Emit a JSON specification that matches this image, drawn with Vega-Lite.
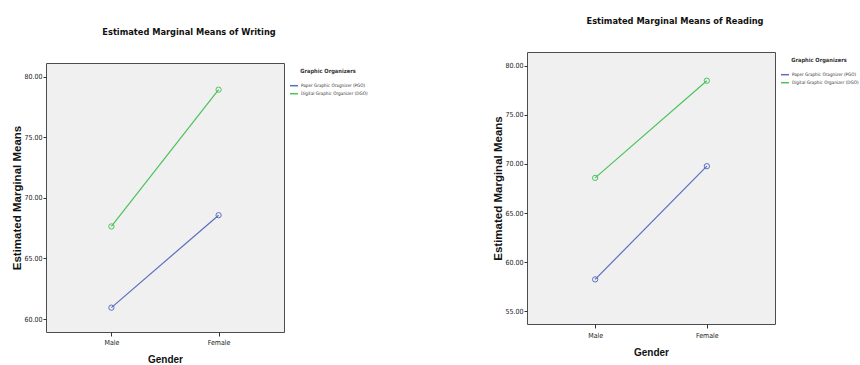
{
  "$schema": "https://vega.github.io/schema/vega-lite/v6.json",
  "background": "white",
  "padding": {"left": 11, "top": 15, "right": 0, "bottom": 0},
  "spacing": 118,
  "datasets": {
    "writing": [
      {"gender": "Male", "group": "Paper Graphic Oragnizer (PGO)", "mean": 60.94},
      {"gender": "Female", "group": "Paper Graphic Oragnizer (PGO)", "mean": 68.57},
      {"gender": "Male", "group": "Digital Graphic Organizer (DGO)", "mean": 67.64},
      {"gender": "Female", "group": "Digital Graphic Organizer (DGO)", "mean": 78.93}
    ],
    "reading": [
      {"gender": "Male", "group": "Paper Graphic Oragnizer (PGO)", "mean": 58.25},
      {"gender": "Female", "group": "Paper Graphic Oragnizer (PGO)", "mean": 69.77},
      {"gender": "Male", "group": "Digital Graphic Organizer (DGO)", "mean": 68.58},
      {"gender": "Female", "group": "Digital Graphic Organizer (DGO)", "mean": 78.47}
    ],
    "none": []
  },
  "config": {
    "view": {"fill": "#f0f0f0", "stroke": "#4d4d4d", "strokeWidth": 1},
    "axis": {
      "grid": false, "domain": false, "tickColor": "#333333", "tickSize": 3,
      "labelFont": "DejaVu Sans Condensed, DejaVu Sans, sans-serif", "labelFontSize": 7, "labelColor": "#222222",
      "titleFont": "Liberation Sans, Arial, sans-serif", "titleFontWeight": "bold", "titleColor": "#111111"
    },
    "axisX": {"titleFontSize": 10, "tickSize": 4},
    "axisY": {"titleFontSize": 11.5},
    "legend": {
      "symbolType": "stroke", "symbolSize": 64, "symbolStrokeWidth": 1.5,
      "labelFont": "DejaVu Sans Condensed, DejaVu Sans, sans-serif", "labelFontSize": 4.6, "labelColor": "#333333",
      "titleFont": "DejaVu Sans Condensed, DejaVu Sans, sans-serif", "titleFontSize": 5.7, "titleFontWeight": "bold", "titleColor": "#333333",
      "titleAnchor": "middle", "titlePadding": 7, "rowPadding": 0, "labelOffset": 2,
      "offset": 0, "padding": 5
    },
    "title": {
      "font": "DejaVu Sans Condensed, DejaVu Sans, sans-serif", "fontSize": 9.2, "fontWeight": "bold", "color": "#111111",
      "offset": 26, "dx": 24
    }
  },
  "resolve": {"scale": {"color": "independent"}, "legend": {"color": "independent"}},
  "hconcat": [
    {
      "spacing": 0,
      "resolve": {"scale": {"color": "independent"}, "legend": {"color": "independent"}},
      "vconcat": [
        {
          "width": 1, "height": 1,
          "view": {"stroke": null, "fill": null},
          "data": {"name": "none"},
          "mark": {"type": "point", "opacity": 0},
          "encoding": {}
        },
        {
          "width": 238, "height": 269,
          "title": {"text": [" ", "Estimated Marginal Means of Writing"], "lineHeight": 11},
          "data": {"name": "writing"},
          "encoding": {
            "x": {"field": "gender", "type": "nominal", "sort": ["Male", "Female"],
                  "scale": {"type": "point", "padding": 0.61},
                  "axis": {"title": "Gender", "labelAngle": 0, "labelPadding": 2, "titlePadding": 9}},
            "y": {"field": "mean", "type": "quantitative",
                  "scale": {"domain": [58.93, 81.13], "nice": false, "zero": false},
                  "axis": {"title": "Estimated Marginal Means", "values": [60, 65, 70, 75, 80], "format": ".2f", "labelPadding": 1, "titlePadding": 1}},
            "color": {"field": "group", "type": "nominal",
                      "scale": {"domain": ["Paper Graphic Oragnizer (PGO)", "Digital Graphic Organizer (DGO)"], "range": ["#5c6ec0", "#4cc35a"]},
                      "legend": {"title": "Graphic Organizers"}}
          },
          "layer": [
            {"mark": {"type": "line", "strokeWidth": 1.2}},
            {"mark": {"type": "point", "filled": false, "size": 28, "strokeWidth": 1, "opacity": 1}}
          ]
        }
      ]
    },
    {
      "spacing": 0,
      "resolve": {"scale": {"color": "independent"}, "legend": {"color": "independent"}},
      "vconcat": [
        {
          "width": 1, "height": 1,
          "view": {"stroke": null, "fill": null},
          "data": {"name": "none"},
          "mark": {"type": "point", "opacity": 0},
          "encoding": {}
        },
        {
          "width": 248, "height": 272,
          "title": {"text": "Estimated Marginal Means of Reading", "lineHeight": 11},
          "data": {"name": "reading"},
          "encoding": {
            "x": {"field": "gender", "type": "nominal", "sort": ["Male", "Female"],
                  "scale": {"type": "point", "padding": 0.61},
                  "axis": {"title": "Gender", "labelAngle": 0, "labelPadding": 3, "titlePadding": 9}},
            "y": {"field": "mean", "type": "quantitative",
                  "scale": {"domain": [53.71, 81.39], "nice": false, "zero": false},
                  "axis": {"title": "Estimated Marginal Means", "values": [55, 60, 65, 70, 75, 80], "format": ".2f", "labelPadding": 1, "titlePadding": 1}},
            "color": {"field": "group", "type": "nominal",
                      "scale": {"domain": ["Paper Graphic Oragnizer (PGO)", "Digital Graphic Organizer (DGO)"], "range": ["#5c6ec0", "#4cc35a"]},
                      "legend": {"title": "Graphic Organizers"}}
          },
          "layer": [
            {"mark": {"type": "line", "strokeWidth": 1.2}},
            {"mark": {"type": "point", "filled": false, "size": 28, "strokeWidth": 1, "opacity": 1}}
          ]
        }
      ]
    }
  ]
}
